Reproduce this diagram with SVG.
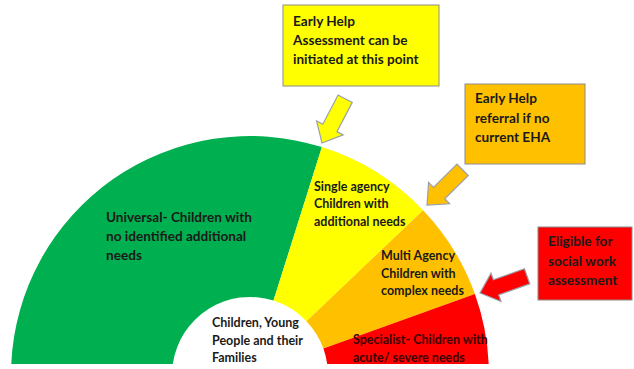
<svg xmlns="http://www.w3.org/2000/svg" xmlns:xlink="http://www.w3.org/1999/xlink" width="634" height="369" viewBox="0 0 634 369">
<style>
text{font-family:Lato,"Liberation Sans",sans-serif;font-weight:bold;font-size:12.5px;fill:#1a1a1a}
text.big{font-size:13.6px}
.box{stroke:#8c8c8c;stroke-width:1}
.arrow{stroke:#9aa0ab;stroke-width:1.2;stroke-linejoin:miter}
.seg{stroke:none}
</style>
<defs>
<path id="arr" d="M-50,-8 L-17,-8 L-17,-15 L0,0 L-17,15 L-17,8 L-50,8 Z"/>
</defs>
<rect width="634" height="369" fill="#ffffff"/>
<g id="universal">
<path class="seg" fill="#00B050" d="M11.25,364 A239,239 0 0 1 321.9,147.1 L273.5,300.6 A78,78 0 0 0 172.8,364 Z"/>
<text class="big" x="106" y="222">Universal- Children with</text>
<text class="big" x="106" y="241">no identified additional</text>
<text class="big" x="106" y="260">needs</text>
</g>
<g id="single">
<path class="seg" fill="#FFFF00" d="M321.9,147.1 A239,239 0 0 1 423.1,210.2 L306.5,321.2 A78,78 0 0 0 273.5,300.6 Z"/>
<text x="314" y="191">Single agency</text>
<text x="314" y="208">Children with</text>
<text x="314" y="226">additional needs</text>
</g>
<g id="multi">
<path class="seg" fill="#FFC000" d="M423.1,210.2 A239,239 0 0 1 474.9,294 L323.4,348.6 A78,78 0 0 0 306.5,321.2 Z"/>
<text x="381" y="260">Multi Agency</text>
<text x="381" y="278">Children with</text>
<text x="381" y="295">complex needs</text>
</g>
<g id="specialist">
<path class="seg" fill="#FF0000" d="M474.9,294 A239,239 0 0 1 488.7,364 L327.2,364 A78,78 0 0 0 323.4,348.6 Z"/>
<text x="353" y="344" style="fill:#3a0000">Specialist- Children with</text>
<text x="353" y="362" style="fill:#3a0000">acute/ severe needs</text>
</g>
<g id="centre">
<text x="212" y="327">Children, Young</text>
<text x="212" y="345">People and their</text>
<text x="212" y="362">Families</text>
</g>
<g id="eha-box">
<rect class="box" x="283" y="5" width="156" height="81" fill="#FFFF00"/>
<text class="big" x="293" y="26">Early Help</text>
<text class="big" x="293" y="45">Assessment can be</text>
<text class="big" x="293" y="64">initiated at this point</text>
</g>
<g id="referral-box">
<rect class="box" x="465" y="84" width="120" height="80" fill="#FFC000"/>
<text class="big" x="475" y="103">Early Help</text>
<text class="big" x="475" y="123">referral if no</text>
<text class="big" x="475" y="142">current EHA</text>
</g>
<g id="social-box">
<rect class="box" x="538" y="227" width="94" height="73" fill="#FF0000"/>
<text class="big" x="548" y="246">Eligible for</text>
<text class="big" x="548" y="266">social work</text>
<text class="big" x="548" y="285">assessment</text>
</g>
<g id="connectors">
<use xlink:href="#arr" class="arrow" fill="#FFFF00" transform="translate(322,143) rotate(117.6)"/>
<use xlink:href="#arr" class="arrow" fill="#FFC000" transform="translate(427,205) rotate(135.4)"/>
<use xlink:href="#arr" class="arrow" fill="#FF0000" transform="translate(480,293) rotate(160.5)"/>
</g>
</svg>
